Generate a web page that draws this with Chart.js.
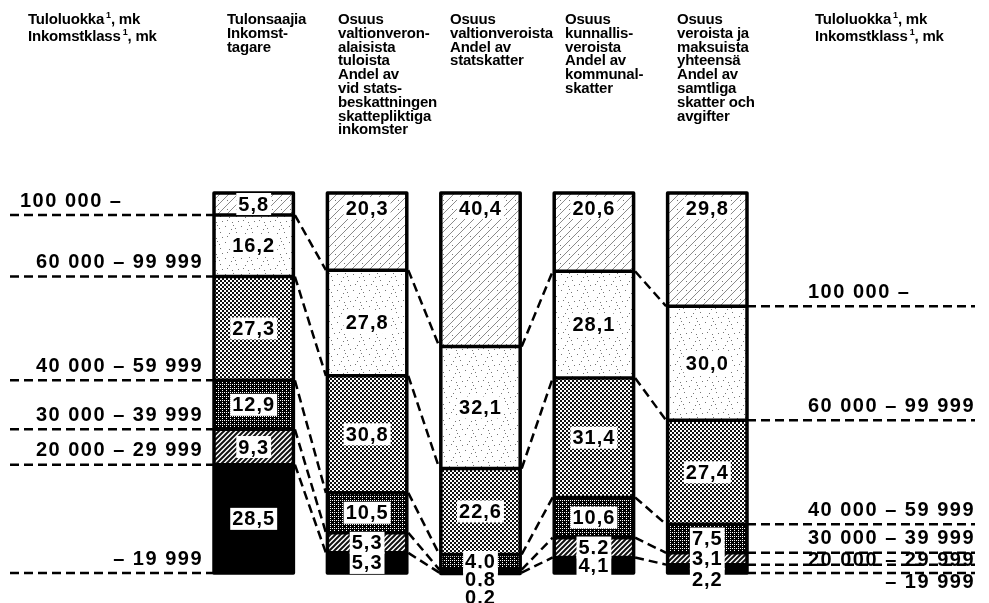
<!DOCTYPE html>
<html>
<head>
<meta charset="utf-8">
<script src="https://cdn.jsdelivr.net/npm/chart.js@4.4.0/dist/chart.umd.min.js"></script>
<style>
  body { margin: 0; background: #fff; }
  #wrap { position: relative; width: 989px; height: 603px; overflow: hidden; }
  #c { position: absolute; left: 0; top: 0; }
  .hd { position: absolute; top: 12px; font: bold 15px "Liberation Sans", Arial, sans-serif;
        line-height: 13.8px; color: #000; white-space: nowrap; letter-spacing: -0.2px; }
  .hd sup { font-size: 9px; vertical-align: 0; position: relative; top: -6px; margin-left: 2px; }
</style>
</head>
<body>
<div id="wrap">
  <canvas id="c" width="989" height="603"></canvas>
  <div class="hd" style="left:28px">Tuloluokka<sup>1</sup>, mk<br>Inkomstklass<sup>1</sup>, mk</div>
  <div class="hd" style="left:227px">Tulonsaajia<br>Inkomst-<br>tagare</div>
  <div class="hd" style="left:338px">Osuus<br>valtionveron-<br>alaisista<br>tuloista<br>Andel av<br>vid stats-<br>beskattningen<br>skattepliktiga<br>inkomster</div>
  <div class="hd" style="left:450px">Osuus<br>valtionveroista<br>Andel av<br>statskatter</div>
  <div class="hd" style="left:565px">Osuus<br>kunnallis-<br>veroista<br>Andel av<br>kommunal-<br>skatter</div>
  <div class="hd" style="left:677px">Osuus<br>veroista ja<br>maksuista<br>yhteensä<br>Andel av<br>samtliga<br>skatter och<br>avgifter</div>
  <div class="hd" style="left:815px">Tuloluokka<sup>1</sup>, mk<br>Inkomstklass<sup>1</sup>, mk</div>
</div>
<script>
// income classes, top of the stack first
const incomeClasses = ["100 000 –", "60 000 – 99 999", "40 000 – 59 999", "30 000 – 39 999", "20 000 – 29 999", "– 19 999"];
// one bar per column
const columns = ["Tulonsaajia", "Valtionveronalaiset tulot", "Valtionverot", "Kunnallisverot", "Verot ja maksut"];
// shares in percent, one array per income class
const share100k = [5.8, 20.3, 40.4, 20.6, 29.8];
const share60k = [16.2, 27.8, 32.1, 28.1, 30.0];
const share40k = [27.3, 30.8, 22.6, 31.4, 27.4];
const share30k = [12.9, 10.5, 4.0, 10.6, 7.5];
const share20k = [9.3, 5.3, 0.8, 5.2, 3.1];
const shareLow = [28.5, 5.3, 0.2, 4.1, 2.2];

const SIDE_FONT = 'bold 20px "Liberation Sans", Arial, sans-serif';
const VALUE_FONT = 'bold 20px "Liberation Sans", Arial, sans-serif';
const ctx0 = document.getElementById("c").getContext("2d");

function tile(size, draw) {
  const c = document.createElement("canvas");
  c.width = c.height = size;
  const g = c.getContext("2d");
  g.fillStyle = "#fff";
  g.fillRect(0, 0, size, size);
  draw(g, size);
  return ctx0.createPattern(c, "repeat");
}

function diag(g, s, w, color) {
  g.strokeStyle = color;
  g.lineWidth = w;
  g.beginPath();
  for (let k = -1; k <= 1; k++) {
    g.moveTo(k * s - 1, s + 1);
    g.lineTo(k * s + s + 1, -1);
  }
  g.stroke();
}

const patterns = [
  tile(9, (g, s) => { diag(g, s, 1, "#8a8a8a"); g.fillStyle = "#777"; g.fillRect(2, 2, 1, 1); }),
  tile(16, g => {
    g.fillStyle = "#777";
    [[1, 2], [5, 9], [11, 4], [14, 13], [8, 14], [3, 12], [12, 8], [7, 5], [9, 1]].forEach(([x, y]) => g.fillRect(x, y, 1, 1));
  }),
  tile(4, g => { g.fillStyle = "#111"; g.fillRect(0, 0, 2, 2); g.fillRect(2, 2, 2, 2); }),
  tile(4, g => { g.fillStyle = "#000"; g.fillRect(0, 0, 4, 4); g.fillStyle = "#fff"; g.fillRect(0, 0, 1, 1); g.fillRect(2, 2, 1, 1); g.fillRect(2, 0, 1, 1); }),
  tile(5, (g, s) => diag(g, s, 2, "#111")),
  "#000"
];

const series = [share100k, share60k, share40k, share30k, share20k, shareLow];

const fmt = v => v.toFixed(1).replace(".", ",");

function sideLabels(ctx, lines, edge, firstX) {
  ctx.font = SIDE_FONT;
  ctx.letterSpacing = "1.5px";
  ctx.fillStyle = "#000";
  ctx.textBaseline = "middle";
  let prev = -Infinity;
  lines.forEach((y, d) => {
    let cy = Math.max(y - 14, prev + 22);
    prev = cy;
    if (d === 0) {
      ctx.textAlign = "left";
      ctx.fillText(incomeClasses[d], firstX, cy);
    } else {
      ctx.textAlign = "right";
      ctx.fillText(incomeClasses[d], edge, cy);
    }
  });
}

const decor = {
  id: "decor",
  afterDatasetsDraw(chart) {
    const ctx = chart.ctx;
    const n = chart.data.labels.length;
    const metas = chart.data.datasets.map((_, d) => chart.getDatasetMeta(d));
    const bars = [];
    for (let i = 0; i < n; i++) {
      const e0 = metas[0].data[i];
      const segs = metas.map(m => {
        const e = m.data[i];
        return { top: Math.min(e.y, e.base), bottom: Math.max(e.y, e.base) };
      });
      bars.push({
        left: e0.x - e0.width / 2, right: e0.x + e0.width / 2, x: e0.x,
        segs, top: segs[0].top, bottom: segs[segs.length - 1].bottom
      });
    }
    ctx.save();
    ctx.strokeStyle = "#000";

    // segment borders and bar outlines
    ctx.lineWidth = 3.5;
    ctx.lineJoin = "round";
    bars.forEach(b => {
      ctx.beginPath();
      b.segs.slice(0, -1).forEach(s => { ctx.moveTo(b.left, s.bottom); ctx.lineTo(b.right, s.bottom); });
      ctx.stroke();
      ctx.strokeRect(b.left, b.top, b.right - b.left, b.bottom - b.top);
    });

    // dashed connectors
    ctx.setLineDash([9, 5]);
    ctx.lineWidth = 2.5;
    ctx.beginPath();
    for (let i = 0; i < n - 1; i++) {
      for (let d = 0; d < series.length - 1; d++) {
        ctx.moveTo(bars[i].right + 1.5, bars[i].segs[d].bottom);
        ctx.lineTo(bars[i + 1].left - 1.5, bars[i + 1].segs[d].bottom);
      }
    }
    const first = bars[0], last = bars[n - 1];
    first.segs.forEach(s => { ctx.moveTo(10, s.bottom); ctx.lineTo(first.left, s.bottom); });
    last.segs.forEach(s => { ctx.moveTo(last.right, s.bottom); ctx.lineTo(975, s.bottom); });
    ctx.stroke();
    ctx.setLineDash([]);

    // income class labels on both sides
    sideLabels(ctx, first.segs.map(s => s.bottom), 203, 20);
    sideLabels(ctx, last.segs.map(s => s.bottom), 975, 808);

    // value labels
    ctx.font = VALUE_FONT;
    ctx.letterSpacing = "1px";
    ctx.textAlign = "center";
    ctx.textBaseline = "middle";
    bars.forEach((b, i) => {
      let below = 0;
      series.forEach((arr, d) => {
        const s = b.segs[d];
        const h = s.bottom - s.top;
        let cy;
        if (d === 0) cy = s.top + Math.min(h / 2, 15);
        else if (h >= 10) cy = (s.top + s.bottom) / 2;
        else { cy = b.bottom + 6 + below * 18; below++; }
        const txt = fmt(arr[i]);
        const w = ctx.measureText(txt).width + 4;
        ctx.fillStyle = "#fff";
        ctx.fillRect(b.x - w / 2, cy - 11, w, 22);
        ctx.fillStyle = "#000";
        ctx.fillText(txt, b.x, cy + 1);
      });
    });
    ctx.restore();
  }
};

new Chart(ctx0, {
  type: "bar",
  data: {
    labels: columns,
    datasets: series.map((arr, d) => ({
      label: incomeClasses[d],
      data: arr,
      backgroundColor: patterns[d],
      borderWidth: 0,
      barPercentage: 0.7,
      categoryPercentage: 1
    }))
  },
  options: {
    responsive: false,
    animation: false,
    layout: { padding: { left: 197, right: 225, top: 193, bottom: 30 } },
    plugins: { legend: { display: false }, tooltip: { enabled: false } },
    scales: {
      x: { display: false, stacked: true },
      y: { display: false, stacked: true, min: 0, max: 100, reverse: true }
    }
  },
  plugins: [decor]
});
</script>
</body>
</html>
